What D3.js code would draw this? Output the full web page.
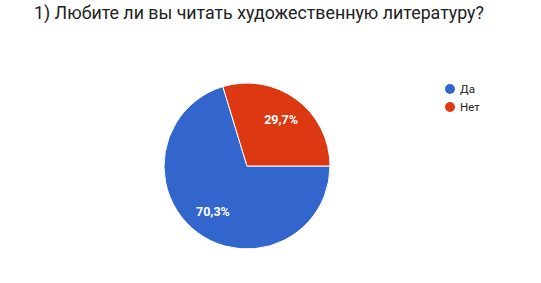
<!DOCTYPE html>
<html>
<head>
<meta charset="utf-8">
<script src="https://cdn.jsdelivr.net/npm/d3@7"></script>
<style>
  body { margin: 0; background: #fff; }
  svg { display: block; }
</style>
</head>
<body>
<svg width="541" height="283"></svg>
<script>
var title = "1) Любите ли вы читать художественную литературу?";
var categories = ["Да", "Нет"];
var values = [70.3, 29.7];
var colors = ["#3366cc", "#dc3912"];

var svg = d3.select("svg"),
    width = +svg.attr("width"),
    height = +svg.attr("height");

svg.append("rect").attr("width", width).attr("height", height).attr("fill", "#fff");

svg.append("text")
    .attr("x", 34)
    .attr("y", 19)
    .attr("font-family", "Roboto")
    .attr("font-size", 17.8)
    .attr("fill", "#212121")
    .text(title);

var cx = 247, cy = 166, r = 83;

var pie = d3.pie()
    .sort(null)
    .startAngle(Math.PI / 2)
    .endAngle(Math.PI / 2 + 2 * Math.PI)
    .value(function(d) { return d; });

var arc = d3.arc().innerRadius(0).outerRadius(r);
var labelArc = d3.arc().innerRadius(r * 0.69).outerRadius(r * 0.69);

var g = svg.append("g").attr("transform", "translate(" + cx + "," + cy + ")");

var arcs = pie(values);

g.selectAll("path")
    .data(arcs)
    .enter().append("path")
      .attr("d", arc)
      .attr("fill", function(d, i) { return colors[i]; })
      .attr("stroke", "#fff")
      .attr("stroke-width", 1);

g.selectAll("text")
    .data(arcs)
    .enter().append("text")
      .attr("transform", function(d) { return "translate(" + labelArc.centroid(d) + ")"; })
      .attr("text-anchor", "middle")
      .attr("dy", "0.35em")
      .attr("font-family", "Roboto")
      .attr("font-weight", "bold")
      .attr("font-size", 12.5)
      .attr("fill", "#fff")
      .text(function(d) { return d.value.toFixed(1).replace(".", ",") + "%"; });

var legend = svg.append("g")
    .selectAll("g")
    .data(categories)
    .enter().append("g")
      .attr("transform", function(d, i) { return "translate(450," + (89 + i * 18) + ")"; });

legend.append("circle")
    .attr("r", 5)
    .attr("fill", function(d, i) { return colors[i]; });

legend.append("text")
    .attr("x", 10)
    .attr("dy", "0.35em")
    .attr("font-family", "Roboto")
    .attr("font-size", 11.5)
    .attr("fill", "#222")
    .text(function(d) { return d; });
</script>
</body>
</html>
